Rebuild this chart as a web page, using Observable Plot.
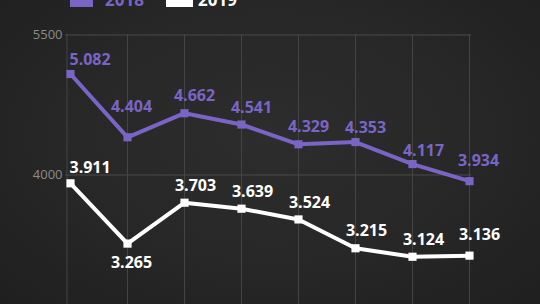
<!DOCTYPE html>
<html>
<head>
<meta charset="utf-8">
<script src="https://cdn.jsdelivr.net/npm/d3@7"></script>
<script src="https://cdn.jsdelivr.net/npm/@observablehq/plot@0.6"></script>
<style>
  html, body { margin: 0; padding: 0; }
  body {
    width: 540px; height: 304px; overflow: hidden; position: relative;
    background: radial-gradient(ellipse at 50% 45%, #2d2d2d 0%, #272727 55%, #1f1f1f 100%);
    font-family: "Open Sans", sans-serif;
  }
  #chart { position: absolute; left: 0; top: 0; }
  .lg { position: absolute; font-weight: 700; font-size: 17px; line-height: 17px; }
  .sw { position: absolute; }
</style>
</head>
<body>
<div class="sw" style="left:70px;top:-8px;width:23px;height:15px;background:#7a65c7"></div>
<div class="lg" style="left:105px;top:-9px;color:#7a65c7">2018</div>
<div class="sw" style="left:166px;top:-8px;width:27px;height:15px;background:#ffffff"></div>
<div class="lg" style="left:198px;top:-9px;color:#ffffff">2019</div>
<div id="chart"></div>
<script>
const categories = ["1", "2", "3", "4", "5", "6", "7", "8"];
const values2018 = [5082, 4404, 4662, 4541, 4329, 4353, 4117, 3934];
const values2019 = [3911, 3265, 3703, 3639, 3524, 3215, 3124, 3136];
const yTicks = [4000, 5500];

const purple = "#7a65c7";
const white = "#ffffff";
const fmt = v => (v / 1000).toFixed(3);

const rows = categories.map((c, i) => ({cat: c, i, v18: values2018[i], v19: values2019[i]}));

function labels(key, color, groups) {
  return groups.map(g => Plot.text(rows.filter(g.f), {
    x: "cat", y: key, text: d => fmt(d[key]),
    fill: color, fontSize: 16, fontWeight: 700, fontFamily: "Open Sans",
    textAnchor: g.anchor || "middle", dx: g.dx, dy: g.dy
  }));
}

const chart = Plot.plot({
  width: 540,
  height: 304,
  marginLeft: 65,
  marginRight: 69,
  marginTop: 34,
  marginBottom: 0,
  style: {background: "transparent", fontFamily: "Open Sans", overflow: "visible"},
  x: {type: "point", domain: categories, range: [68.5, 471], padding: 0, axis: null},
  y: {domain: [4000, 5500], range: [174.5, 34.5], axis: null},
  marks: [
    Plot.ruleY(yTicks, {stroke: "#4a4a4a", strokeWidth: 1}),
    Plot.ruleX(categories.slice(1), {stroke: "#444444", strokeWidth: 1}),
    Plot.ruleX(categories.slice(0, 1), {stroke: "#444444", strokeWidth: 1, dx: -3.5}),
    Plot.axisY(yTicks, {tickSize: 0, tickPadding: 3, fontSize: 13, fill: "#8c8c8c", textAnchor: "end", tickFormat: d => String(d)}),
    Plot.line(rows, {x: "cat", y: "v18", stroke: purple, strokeWidth: 4, strokeLinejoin: "miter"}),
    Plot.dot(rows, {x: "cat", y: "v18", symbol: "square", r: 4.6, fill: purple, stroke: "none"}),
    Plot.line(rows, {x: "cat", y: "v19", stroke: white, strokeWidth: 4, strokeLinejoin: "miter"}),
    Plot.dot(rows, {x: "cat", y: "v19", symbol: "square", r: 4.6, fill: white, stroke: "none"}),
    ...labels("v18", purple, [
      {f: d => d.i === 0, anchor: "start", dx: -1, dy: -14},
      {f: d => d.i === 1, dx: 4, dy: -30},
      {f: d => d.i >= 2 && d.i <= 4, dx: 10, dy: -17},
      {f: d => d.i === 5, dx: 10, dy: -14},
      {f: d => d.i === 6, dx: 11, dy: -13},
      {f: d => d.i === 7, dx: 9, dy: -20}
    ]),
    ...labels("v19", white, [
      {f: d => d.i === 0, anchor: "start", dx: -1, dy: -15},
      {f: d => d.i === 1, dx: 4, dy: 19},
      {f: d => d.i >= 2 && d.i <= 6, dx: 11, dy: -17},
      {f: d => d.i === 7, dx: 10, dy: -21}
    ])
  ]
});
document.getElementById("chart").appendChild(chart);
</script>
</body>
</html>
